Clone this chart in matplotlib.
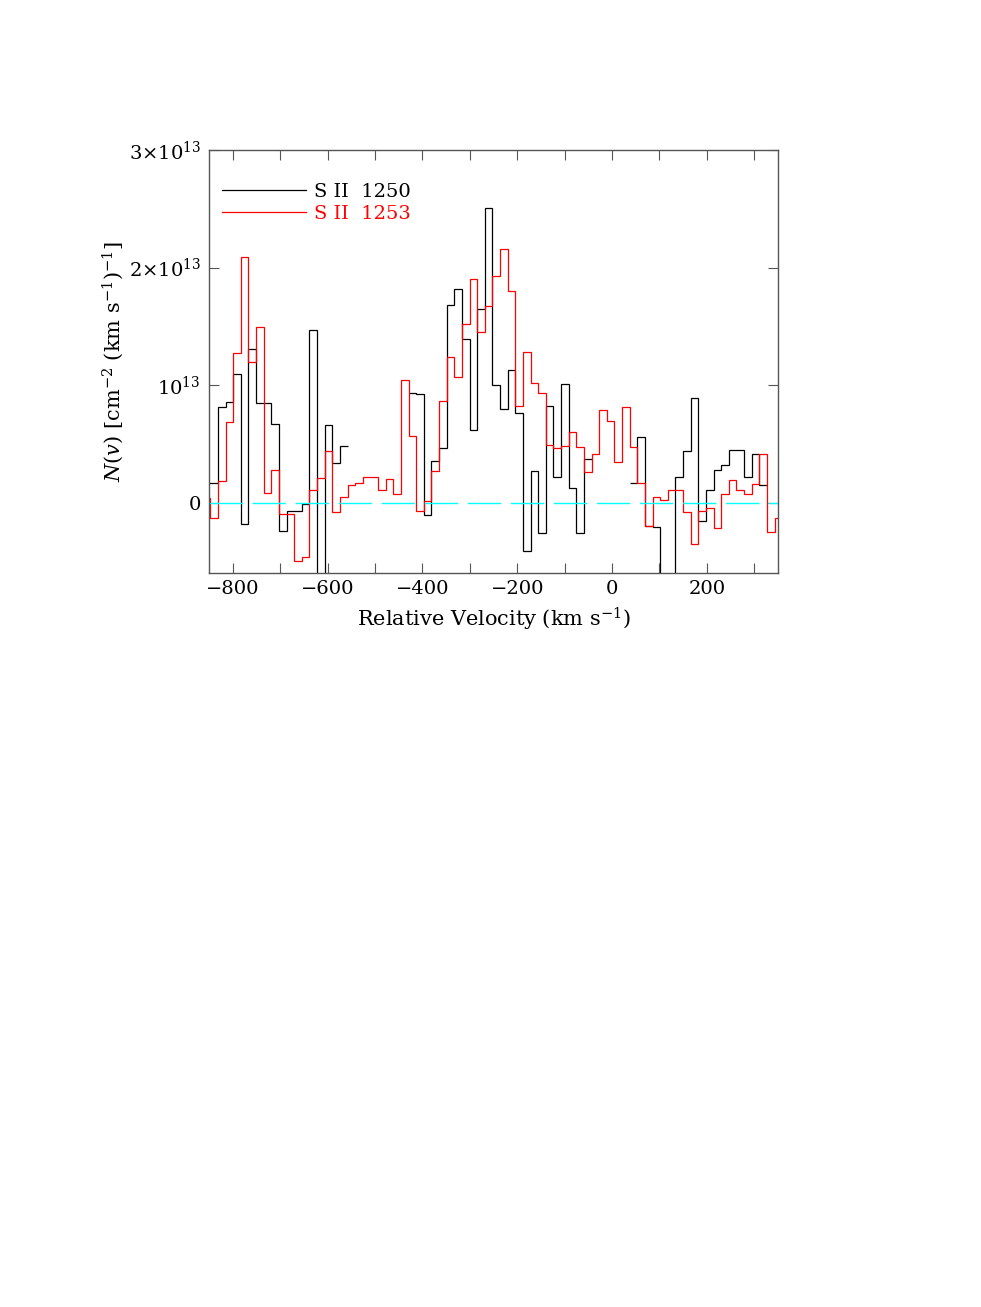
import numpy as np
import matplotlib
matplotlib.use('Agg')
import matplotlib.pyplot as plt
from matplotlib.ticker import MultipleLocator, FixedLocator, FixedFormatter
from matplotlib.lines import Line2D

plt.rcParams['font.family'] = ['DejaVu Serif']
plt.rcParams['mathtext.fontset'] = 'dejavuserif'

# velocity bins (km/s): first edge and bin width
v_start = -863.2
v_width = 16.08
n_bins = 76

nan = np.nan
# N(v) in units of 1e13 cm^-2 (km/s)^-1
s2_1250 = [0.17, 0.17, 0.81, 0.855, 1.09, -0.18, 1.31, 0.85, 0.85, 0.67,
           -0.245, -0.07, -0.07, -0.01, 1.47, -1.0, 0.66, 0.335, 0.48,
           nan, nan, nan, nan, nan, nan, nan, nan,
           0.93, 0.92, -0.11, 0.35, 0.46, 1.68, 1.82, 1.39, 0.62, 1.65,
           2.51, 1.00, 0.80, 1.13, 0.76, -0.41, 0.27, -0.26, 0.82, 0.22,
           1.01, 0.12, -0.26, 0.37,
           nan, nan, nan, nan, nan,
           0.165, 0.56, -0.20, -0.21, -1.0, -1.0, 0.22, 0.44, 0.89, -0.16,
           0.11, 0.28, 0.32, 0.45, 0.45, 0.22, 0.41, 0.145, nan, nan]
s2_1253 = [0.04, -0.13, 0.18, 0.685, 1.27, 2.09, 1.20, 1.49, 0.08, 0.28,
           -0.10, -0.10, -0.50, -0.46, 0.11, 0.21, 0.44, -0.08, 0.05, 0.145,
           0.165, 0.22, 0.22, 0.11, 0.20, 0.07, 1.04, 0.57, -0.07, 0.01,
           0.27, 0.86, 1.24, 1.07, 1.52, 1.90, 1.45, 1.67, 1.93, 2.16,
           1.80, 0.82, 1.28, 1.02, 0.93, 0.49, 0.46, 0.48, 0.60, 0.47,
           0.26, 0.41, 0.79, 0.69, 0.345, 0.81, 0.47, 0.17, -0.20, 0.045,
           0.02, 0.11, 0.11, -0.085, -0.35, -0.075, -0.045, -0.22, 0.07, 0.19,
           0.11, 0.07, 0.16, 0.41, -0.25, -0.13]

edges = v_start + v_width * np.arange(n_bins + 1)
black = np.array(s2_1250) * 1e13
red = np.array(s2_1253) * 1e13

fig = plt.figure(figsize=(9.81, 13.07), dpi=100)
ax = fig.add_axes([209/981, 1 - 573/1307, 569/981, 423/1307])

ax.axhline(0, color='cyan', lw=1.0, dashes=(24, 7))
ax.stairs(black, edges, baseline=None, color='k', lw=0.9)
ax.stairs(red, edges, baseline=None, color='red', lw=0.9)

ax.set_xlim(-850, 350)
ax.set_ylim(-0.6e13, 3e13)

ax.xaxis.set_major_locator(MultipleLocator(200))
ax.xaxis.set_minor_locator(MultipleLocator(100))
ax.yaxis.set_major_locator(FixedLocator([0, 1e13, 2e13, 3e13]))
ax.yaxis.set_major_formatter(FixedFormatter(['0', '10$^{13}$', '2×10$^{13}$', '3×10$^{13}$']))
ax.tick_params(which='both', direction='in', top=True, right=True, length=7,
               width=0.8, color='#555555', labelsize=14, pad=5)
ax.tick_params(axis='y', pad=6)
for sp in ax.spines.values():
    sp.set_color('#555555')
    sp.set_linewidth(1.0)

ax.set_xlabel(r'Relative Velocity (km s$^{-1}$)', fontsize=15, labelpad=6)
ax.set_ylabel(r'$N(v)$ [cm$^{-2}$ (km s$^{-1}$)$^{-1}$]', fontsize=15)
ax.yaxis.set_label_coords(-0.145, 0.5)

handles = [Line2D([], [], color='k', lw=0.9), Line2D([], [], color='red', lw=0.9)]
ax.legend(handles, ['S II  1250', 'S II  1253'], loc='upper left',
          bbox_to_anchor=(0.023, 0.922), frameon=False, fontsize=14,
          handlelength=4.3, handletextpad=0.45, labelspacing=0.22,
          borderpad=0, borderaxespad=0, labelcolor='linecolor')

fig.savefig('out.png', dpi=100)
